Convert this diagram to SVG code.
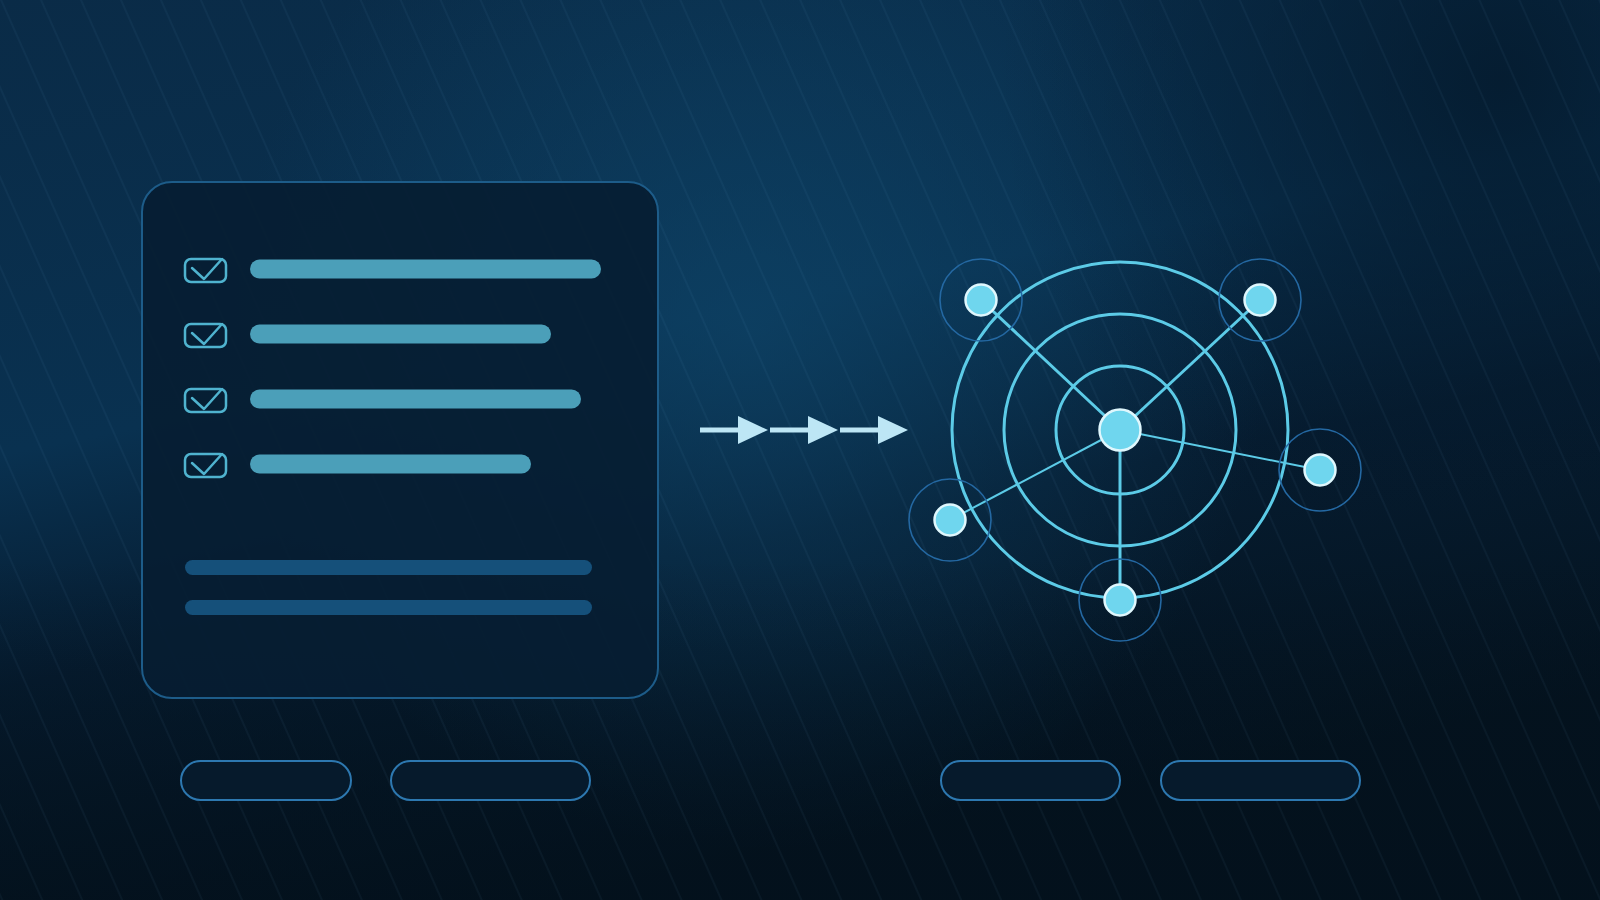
<svg xmlns="http://www.w3.org/2000/svg" width="1600" height="900" viewBox="0 0 1600 900">
  <defs>
    <linearGradient id="bg" x1="0" y1="0" x2="0.35" y2="1">
      <stop offset="0" stop-color="#0a2b47"/>
      <stop offset="0.45" stop-color="#093150"/>
      <stop offset="0.68" stop-color="#061c30"/>
      <stop offset="1" stop-color="#04131f"/>
    </linearGradient>
    <radialGradient id="glow" cx="750" cy="330" r="520" gradientUnits="userSpaceOnUse">
      <stop offset="0" stop-color="#0e4468" stop-opacity="0.7"/>
      <stop offset="1" stop-color="#0e4468" stop-opacity="0"/>
    </radialGradient>
    <radialGradient id="dark" cx="1500" cy="80" r="500" gradientUnits="userSpaceOnUse">
      <stop offset="0" stop-color="#04182a" stop-opacity="0.8"/>
      <stop offset="1" stop-color="#04182a" stop-opacity="0"/>
    </radialGradient>
    <linearGradient id="bottomShade" x1="0" y1="0" x2="0" y2="1">
      <stop offset="0" stop-color="#03101b" stop-opacity="0"/>
      <stop offset="1" stop-color="#03101b" stop-opacity="0.7"/>
    </linearGradient>
    <pattern id="stripes" width="36.5" height="40" patternUnits="userSpaceOnUse" patternTransform="rotate(-24)">
      <line x1="1" y1="0" x2="1" y2="40" stroke="#6fb4dc" stroke-opacity="0.085" stroke-width="1.2"/>
    </pattern>
    <marker id="ah" viewBox="0 0 30 28" refX="0" refY="14" markerWidth="30" markerHeight="28" markerUnits="userSpaceOnUse" orient="auto">
      <path d="M0,0 L30,14 L0,28 Z" fill="#bde6f5"/>
    </marker>
  </defs>
  <style>
    .bar{fill:#4b9fb9}
    .bar2{fill:#15507a}
    .chk rect{fill:none;stroke:#4fb3cf;stroke-width:2.5}
    .chk path{fill:none;stroke:#4fb3cf;stroke-width:2.5;stroke-linecap:round;stroke-linejoin:round}
    .pill{fill:#061a2c;stroke:#2d78b0;stroke-width:2}
    .ring{fill:none;stroke:#5ccbe7;stroke-width:3}
    .halo{fill:none;stroke:#2468a2;stroke-width:1.6}
    .node{fill:#6fd6ee;stroke:#dff7fd;stroke-width:2.5}
    .link{stroke:#5ccbe7;fill:none}
    .arrow{stroke:#bde6f5;stroke-width:5}
  </style>

  <rect width="1600" height="900" fill="url(#bg)"/>
  <rect width="1600" height="900" fill="url(#glow)"/>
  <rect width="1600" height="900" fill="url(#dark)"/>
  <rect y="560" width="1600" height="340" fill="url(#bottomShade)"/>
  <rect width="1600" height="900" fill="url(#stripes)"/>

  <g id="checklist-panel">
    <rect x="142" y="182" width="516" height="516" rx="30" fill="#071d32" fill-opacity="0.92" stroke="#1d5c89" stroke-width="2"/>
    <g class="chk">
      <rect x="185" y="259" width="41" height="23" rx="6"/>
      <path d="M192,268 L204,279 L222,259"/>
      <rect x="185" y="324" width="41" height="23" rx="6"/>
      <path d="M192,333 L204,344 L222,324"/>
      <rect x="185" y="389" width="41" height="23" rx="6"/>
      <path d="M192,398 L204,409 L222,389"/>
      <rect x="185" y="454" width="41" height="23" rx="6"/>
      <path d="M192,463 L204,474 L222,454"/>
    </g>
    <rect class="bar" x="250" y="259.5" width="351" height="19" rx="9.5"/>
    <rect class="bar" x="250" y="324.5" width="301" height="19" rx="9.5"/>
    <rect class="bar" x="250" y="389.5" width="331" height="19" rx="9.5"/>
    <rect class="bar" x="250" y="454.5" width="281" height="19" rx="9.5"/>
    <rect class="bar2" x="185" y="560" width="407" height="15" rx="7.5"/>
    <rect class="bar2" x="185" y="600" width="407" height="15" rx="7.5"/>
  </g>

  <g id="connectors">
    <line class="arrow" x1="700" y1="430" x2="738" y2="430" marker-end="url(#ah)"/>
    <line class="arrow" x1="770" y1="430" x2="808" y2="430" marker-end="url(#ah)"/>
    <line class="arrow" x1="840" y1="430" x2="878" y2="430" marker-end="url(#ah)"/>
    <line class="link" stroke-width="3" x1="1120" y1="430" x2="981" y2="300"/>
    <line class="link" stroke-width="3" x1="1120" y1="430" x2="1260" y2="300"/>
    <line class="link" stroke-width="2" x1="1120" y1="430" x2="1320" y2="470"/>
    <line class="link" stroke-width="3" x1="1120" y1="430" x2="1120" y2="600"/>
    <line class="link" stroke-width="2" x1="1120" y1="430" x2="950" y2="520"/>
  </g>

  <g id="network">
    <circle class="ring" cx="1120" cy="430" r="168"/>
    <circle class="ring" cx="1120" cy="430" r="116"/>
    <circle class="ring" cx="1120" cy="430" r="64"/>
  </g>

  <g id="node-center"><circle class="node" cx="1120" cy="430" r="20.5"/></g>
  <g id="node-top-left"><circle class="halo" cx="981" cy="300" r="41"/><circle class="node" cx="981" cy="300" r="15.5"/></g>
  <g id="node-top-right"><circle class="halo" cx="1260" cy="300" r="41"/><circle class="node" cx="1260" cy="300" r="15.5"/></g>
  <g id="node-right"><circle class="halo" cx="1320" cy="470" r="41"/><circle class="node" cx="1320" cy="470" r="15.5"/></g>
  <g id="node-bottom"><circle class="halo" cx="1120" cy="600" r="41"/><circle class="node" cx="1120" cy="600" r="15.5"/></g>
  <g id="node-left"><circle class="halo" cx="950" cy="520" r="41"/><circle class="node" cx="950" cy="520" r="15.5"/></g>

  <g id="pill-1"><rect class="pill" x="181" y="761" width="170" height="39" rx="19.5"/></g>
  <g id="pill-2"><rect class="pill" x="391" y="761" width="199" height="39" rx="19.5"/></g>
  <g id="pill-3"><rect class="pill" x="941" y="761" width="179" height="39" rx="19.5"/></g>
  <g id="pill-4"><rect class="pill" x="1161" y="761" width="199" height="39" rx="19.5"/></g>
</svg>
